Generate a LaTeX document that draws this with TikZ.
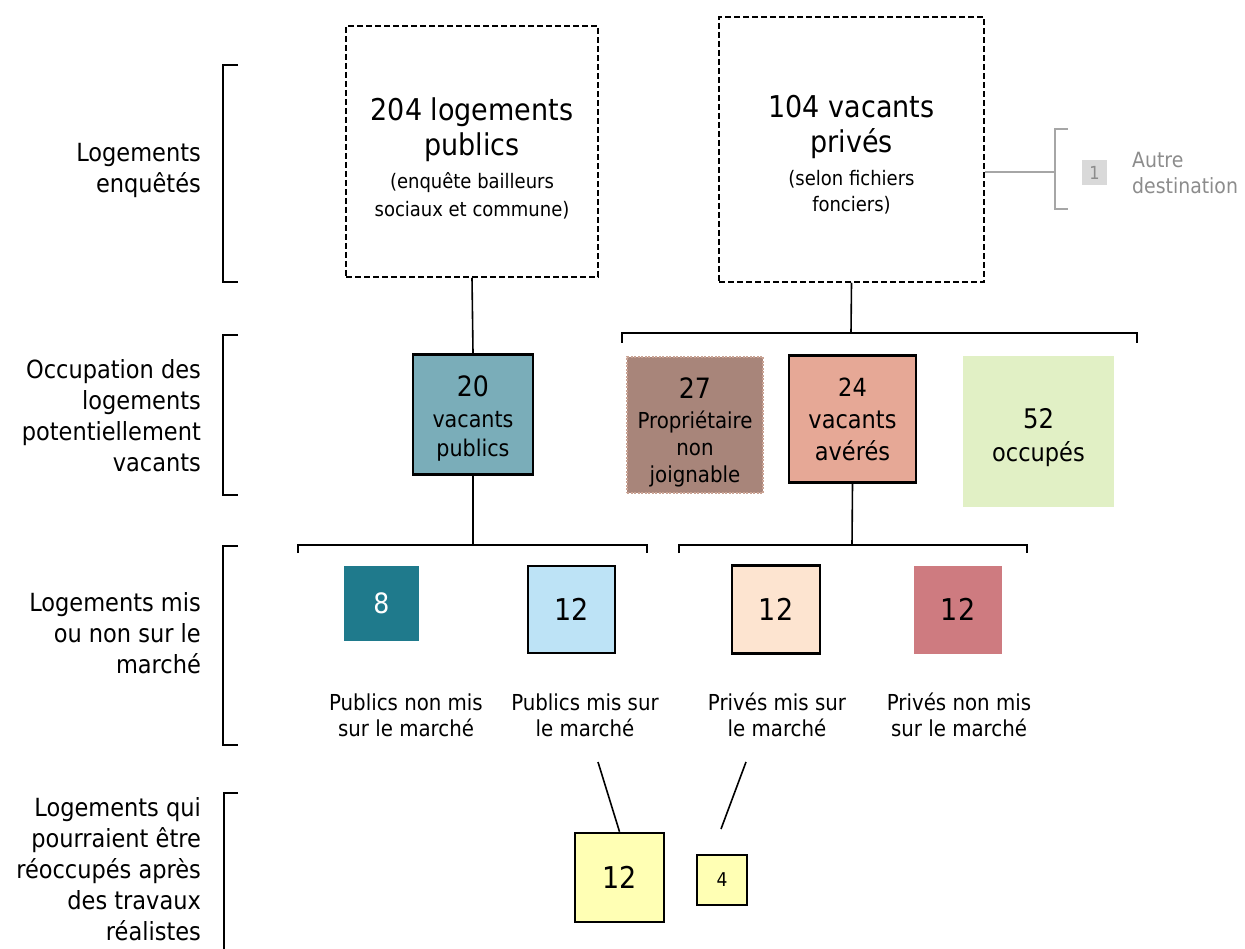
\documentclass[tikz,border=0pt]{standalone}
\usepackage{fontspec}
\setmainfont{DejaVu Sans Condensed}
\usepackage{xcolor}
\usetikzlibrary{positioning, calc}

\definecolor{vacpub}{HTML}{7AADB9}
\definecolor{injoign}{HTML}{A8857A}
\definecolor{injoignbord}{HTML}{C9A394}
\definecolor{vacpriv}{HTML}{E6A896}
\definecolor{occup}{HTML}{E1F0C5}
\definecolor{pubnon}{HTML}{1F7A8C}
\definecolor{pubmis}{HTML}{BDE3F6}
\definecolor{privmis}{HTML}{FDE4D0}
\definecolor{privnon}{HTML}{CE7B80}
\definecolor{travaux}{HTML}{FFFFB4}
\definecolor{autregris}{HTML}{A6A6A6}
\definecolor{autretexte}{HTML}{8C8C8C}
\definecolor{autrecase}{HTML}{D9D9D9}

\newcommand{\fsz}[2]{\fontsize{#1}{#2}\selectfont}

\begin{document}
\begin{tikzpicture}[x=1pt, y=-1pt, line width=1.6pt,
    survey/.style={draw, dash pattern=on 6pt off 3pt, line width=1.5pt, inner sep=0pt},
    cell/.style={inner sep=0pt, align=center, minimum width=#1, minimum height=#1},
    boxed/.style={cell=#1, draw, line width=2.6pt},
    lab/.style={align=right, anchor=east, font=\fsz{25}{31}},
    marche/.style={align=center, font=\fsz{22}{26}}]
  \useasboundingbox (0,0) rectangle (1245,949);

  % Niveaux (colonne de gauche)
  \node[lab] (niv1) at (205,170) {Logements\\enquêtés};
  \node[lab] (niv2) at (205,416) {Occupation des\\logements\\potentiellement\\vacants};
  \node[lab] (niv3) at (205,633) {Logements mis\\ou non sur le\\marché};
  \node[lab] (niv4) at (205,869) {Logements qui\\pourraient être\\réoccupés après\\des travaux\\réalistes};
  \draw (238,65) -- (223,65) -- (223,282) -- (238,282);
  \draw (238,335) -- (223,335) -- (223,495) -- (238,495);
  \draw (238,546) -- (223,546) -- (223,745) -- (238,745);
  \draw (238,793) -- (224,793) -- (224,955);

  % Logements enquetes
  \node[survey, minimum width=252, minimum height=251] (pub) at (472,151.5) {};
  \node[align=center, font=\fsz{30}{35}] (pubtxt) at (472,158)
    {204 logements\\publics\\[-2pt]\fsz{20}{28}(enquête bailleurs\\[-7pt]\fsz{20}{28}sociaux et commune)};
  \node[survey, minimum width=265, minimum height=265] (priv) at (851.5,149.5) {};
  \node[align=center, font=\fsz{30}{35}] (privtxt) at (851.5,155)
    {104 vacants\\privés\\[-2pt]\fsz{20}{26}(selon fichiers\\[-9pt]\fsz{20}{26}fonciers)};

  % Autre destination
  \coordinate (autre) at (1055,172);
  \draw[autregris] (autre -| priv.east) -- (autre);
  \draw[autregris] (1068,129) -- (1055,129) -- (1055,209) -- (1068,209);
  \node[cell=25, fill=autrecase, text=autretexte, font=\fsz{18}{20}] (un) at (1094.5,172.5) {1};
  \node[anchor=west, align=left, text=autretexte, font=\fsz{21}{26}] (dest) at (1128,173) {Autre\\destination};

  % Occupation
  \node[boxed=120, fill=vacpub] (vpub) at (473,414.5) {};
  \node[align=center, font=\fsz{23}{29}] (vpubtxt) at (473,418.5)
    {\fsz{28}{33}20\\[2pt]vacants\\publics};
  \node[cell=136, fill=injoign, draw=injoignbord, line width=1.2pt, dash pattern=on 2pt off 1.5pt] (injo) at (695,425) {};
  \node[align=center, font=\fsz{22}{27}] (injotxt) at (695,432)
    {\fsz{28}{32}27\\[3pt]Propriétaire\\non\\joignable};
  \node[boxed=127, fill=vacpriv, font=\fsz{25}{32}] (vpriv) at (852.5,419)
    {24\\vacants\\avérés};
  \node[cell=151, fill=occup] (occ) at (1038.5,431.5) {};
  \node[align=center, font=\fsz{25}{33}] (occtxt) at (1038.5,437.5)
    {\fsz{27}{33}52\\occupés};

  \draw (pub.south) -- (vpub.north);
  \coordinate (brpriv) at (851,333);
  \draw (priv.south) -- (brpriv);
  \draw (622,343) -- (622,333) -- (1137,333) -- (1137,343);

  % Mis ou non sur le marche
  \coordinate (brpub2) at (473,545);
  \coordinate (brpriv2) at (852,545);
  \draw (vpub.south) -- (brpub2);
  \draw (vpriv.south) -- (brpriv2);
  \draw (298,553) -- (298,545) -- (647,545) -- (647,553);
  \draw (679,553) -- (679,545) -- (1027,545) -- (1027,553);

  \node[cell=75, fill=pubnon, text=white, font=\fsz{28}{30}] (pnon) at (381.5,603.5) {8};
  \node[boxed=87, fill=pubmis, font=\fsz{30}{34}] (pmis) at (571.5,609.5) {12};
  \node[boxed=88, fill=privmis, font=\fsz{30}{34}] (prmis) at (776,609.5) {12};
  \node[cell=88, fill=privnon, font=\fsz{30}{34}] (prnon) at (958,609.5) {12};

  \node[marche] (lpnon) at (406,715) {Publics non mis\\sur le marché};
  \node[marche] (lpmis) at (585,715) {Publics mis sur\\le marché};
  \node[marche] (lprmis) at (777,715) {Privés mis sur\\le marché};
  \node[marche] (lprnon) at (959,715) {Privés non mis\\sur le marché};

  % Apres travaux
  \node[boxed=89, fill=travaux, font=\fsz{30}{34}] (trpub) at (619.5,877.5) {12};
  \node[boxed=50, fill=travaux, font=\fsz{19}{22}] (trpriv) at (722,880) {4};
  \coordinate (depub) at (598,762);
  \coordinate (depriv) at (746,762);
  \coordinate (arpriv) at (721,829);
  \draw (depub) -- (trpub.north);
  \draw (depriv) -- (arpriv);
\end{tikzpicture}
\end{document}
